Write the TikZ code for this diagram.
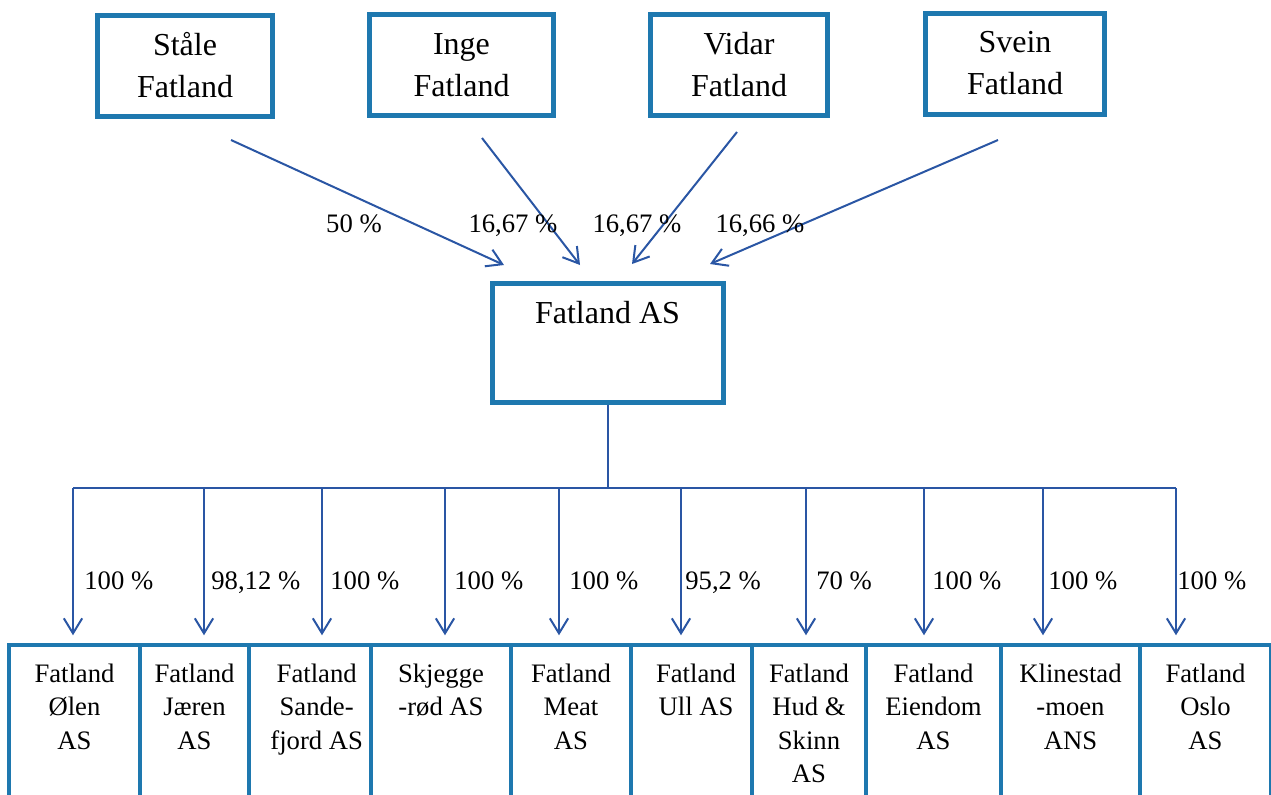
\documentclass[tikz,border=0pt]{standalone}
\usepackage{fontspec}
\setmainfont{Liberation Serif}
\usetikzlibrary{arrows.meta}
\definecolor{boxblue}{RGB}{30,120,175}
\definecolor{linkblue}{RGB}{42,86,164}
\begin{document}
\begin{tikzpicture}[>={Straight Barb[length=9pt,width=11pt]}, x=0.6pt, y=-0.6pt,
    owner/.style={draw=boxblue, line width=3pt, inner sep=0pt, minimum height=60.6pt, align=center, font=\fontsize{19.2}{25.2}\selectfont},
    sub/.style={draw=boxblue, line width=2.1pt, inner sep=0pt, minimum height=120pt},
    inside/.style={anchor=north, inner sep=0pt, yshift=-12pt, align=center, font=\fontsize{16}{20.1}\selectfont},
    pct/.style={inner sep=0pt, font=\fontsize{16}{20}\selectfont},
    link/.style={draw=linkblue, line width=1.2pt}]
\useasboundingbox (0,0) rectangle (1271,794);
% owners
\node[owner, minimum width=105pt] (stale) at (185,65.5) {Ståle\\Fatland};
\node[owner, minimum width=110.4pt] (inge) at (461.5,65) {Inge\\Fatland};
\node[owner, minimum width=106.2pt] (vidar) at (739,64.5) {Vidar\\Fatland};
\node[owner, minimum width=107.4pt] (svein) at (1015,63.5) {Svein\\Fatland};
% holding
\node[draw=boxblue, line width=3pt, inner sep=0pt, minimum width=138.6pt, minimum height=71.4pt,
    label={[inside, yshift=-0.3pt, font=\fontsize{19.2}{25.2}\selectfont]north:Fatland AS}] (fas) at (607.5,342.5) {};
\coordinate (sa) at (231,140); \coordinate (ta) at (504,265);
\coordinate (sb) at (482,138); \coordinate (tb) at (580,265);
\coordinate (sc) at (737,132); \coordinate (tc) at (632,264);
\coordinate (sd) at (998,140); \coordinate (td) at (710,264);
\draw[link,->] (sa) -- (ta);
\draw[link,->] (sb) -- (tb);
\draw[link,->] (sc) -- (tc);
\draw[link,->] (sd) -- (td);
\node[pct, anchor=base] (pa) at (354,232) {50 \%};
\node[pct, anchor=base] (pb) at (513,232) {16,67 \%};
\node[pct, anchor=base] (pc) at (637,232) {16,67 \%};
\node[pct, anchor=base] (pd) at (760,232) {16,66 \%};
% companies
\node[sub, minimum width=78.6pt, label={[inside]north:Fatland\\Ølen\\AS}] (olen) at (74.5,745) {};
\node[sub, minimum width=65.4pt, label={[inside]north:Fatland\\Jæren\\AS}] (jaren) at (194.5,745) {};
\node[sub, minimum width=73.2pt, label={[inside, xshift=4pt]north:Fatland\\Sande-\\fjord AS}] (sfj) at (310,745) {};
\node[sub, minimum width=84pt, label={[inside]north:Skjegge\\-rød AS}] (skj) at (441,745) {};
\node[sub, minimum width=72pt, label={[inside]north:Fatland\\Meat\\AS}] (meat) at (571,745) {};
\node[sub, minimum width=72.6pt, label={[inside, xshift=3pt]north:Fatland\\Ull AS}] (ull) at (691,745) {};
\node[sub, minimum width=68.4pt, label={[inside]north:Fatland\\Hud \&\\Skinn\\AS}] (hud) at (809,745) {};
\node[sub, minimum width=81pt, label={[inside]north:Fatland\\Eiendom\\AS}] (eien) at (933.5,745) {};
\node[sub, minimum width=83.4pt, label={[inside]north:Klinestad\\-moen\\ANS}] (klin) at (1070.5,745) {};
\node[sub, minimum width=78.6pt, label={[inside]north:Fatland\\Oslo\\AS}] (oslo) at (1205.5,745) {};
\coordinate (bus) at (607.5,488);
\coordinate (busw) at (73,488);
\coordinate (buse) at (1176,488);
\draw[link] (fas.south) -- (bus);
\draw[link] (busw) -- (buse);
\foreach \d/\n/\x/\p in {73/olen/84/{100 \%}, 204/jaren/211/{98,12 \%}, 322/sfj/330/{100 \%},
    445/skj/454/{100 \%}, 559/meat/569/{100 \%}, 681/ull/685/{95,2 \%}, 806/hud/816/{70 \%},
    924/eien/932/{100 \%}, 1043/klin/1048/{100 \%}, 1176/oslo/1177/{100 \%}}
{
    \draw[link,->, shorten >=4.8pt] (\d,488) -- (\d,0 |- \n.north);
    \node[pct, anchor=base west] (p\n) at (\x,589) {\p};
}
\end{tikzpicture}
\end{document}
